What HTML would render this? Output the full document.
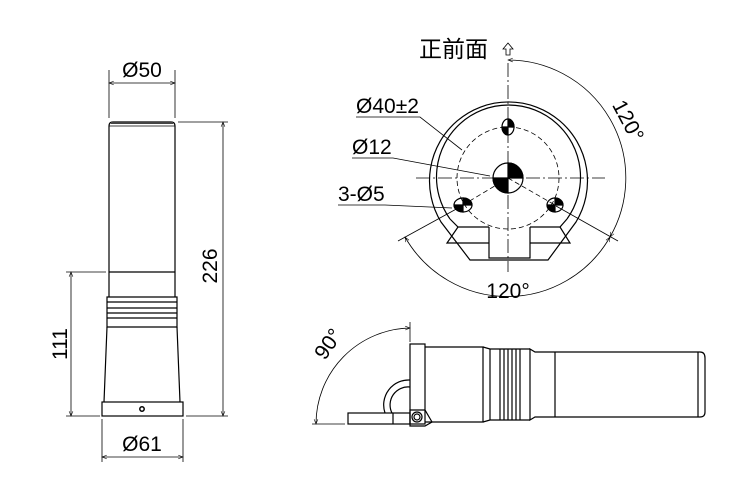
<!DOCTYPE html>
<html><head><meta charset="utf-8"><style>
html,body{margin:0;padding:0;background:#fff;width:750px;height:500px;overflow:hidden}
text{font-family:"Liberation Sans","Noto Sans CJK SC",sans-serif;fill:#000}
</style></head><body>
<svg width="750" height="500" viewBox="0 0 750 500" xmlns="http://www.w3.org/2000/svg">
<defs>
<marker id="a" viewBox="0 0 10 10" refX="10" refY="5" markerWidth="8" markerHeight="6" orient="auto-start-reverse"><path d="M0,1 L10,5 L0,9" fill="none" stroke="#000" stroke-width="1.2"/></marker>
</defs>
<g fill="none" stroke="#000" stroke-width="1.2">
<path d="M109,272 V126 Q109,122 113,122 H171 Q175,122 175,126 V272"/>
<rect x="111" y="122" width="62" height="2" fill="#444" stroke="none"/>
<line x1="109" y1="126" x2="175" y2="126" stroke-width="0.8"/>
<line x1="109" y1="272" x2="175" y2="272"/>
<path d="M109,272 V297 M175,272 V297"/>
<path d="M107,297 H177 V327 H107 Z"/>
<line x1="107" y1="302" x2="177" y2="302"/>
<line x1="107" y1="308" x2="177" y2="308"/>
<line x1="107" y1="313" x2="177" y2="313"/>
<line x1="107" y1="318" x2="177" y2="318"/>
<path d="M107,327 L104,402 M177,327 L180,402"/>
<rect x="102" y="402" width="81" height="14"/>
<circle cx="142" cy="409" r="2.2" stroke-width="1.5"/>
<g stroke-width="0.8">
<line x1="109" y1="70" x2="109" y2="118"/><line x1="175" y1="70" x2="175" y2="118"/>
<line x1="109" y1="83" x2="175" y2="83" marker-start="url(#a)" marker-end="url(#a)"/>
<line x1="178" y1="122" x2="228" y2="122"/><line x1="186" y1="416" x2="228" y2="416"/>
<line x1="223" y1="122" x2="223" y2="416" marker-start="url(#a)" marker-end="url(#a)"/>
<line x1="66" y1="272" x2="106" y2="272"/><line x1="66" y1="416" x2="100" y2="416"/>
<line x1="71" y1="272" x2="71" y2="416" marker-start="url(#a)" marker-end="url(#a)"/>
<line x1="102" y1="419" x2="102" y2="462"/><line x1="183" y1="419" x2="183" y2="462"/>
<line x1="102" y1="457" x2="183" y2="457" marker-start="url(#a)" marker-end="url(#a)"/>
</g>
<g stroke-width="0.8" stroke-dasharray="14,3,2,3">
<line x1="508" y1="63" x2="508" y2="272"/>
<line x1="416" y1="178" x2="605" y2="178"/>
</g>
<circle cx="508" cy="178" r="51" stroke-width="0.8" stroke-dasharray="5,3"/>
<g stroke-width="0.8" stroke-dasharray="5,3"><line x1="508" y1="178" x2="463" y2="205"/><line x1="508" y1="178" x2="555" y2="205"/></g>
<path d="M441,222 A79,79 0 1 1 576,222 L548,260 H470 Z"/>
<path d="M450,219 A72,72 0 1 1 567,219"/>
<path d="M450,219 L458,227 H489 M567,219 L560,227 H530"/>
<path d="M458,227 L447,243 H489 M560,227 L570,243 H530"/>
<path d="M489,227 V258 H530 V227"/>
<circle cx="508" cy="178" r="15" stroke-width="1.2"/>
<path d="M508,163 A15,15 0 0 1 523,178 H508 Z M508,193 A15,15 0 0 1 493,178 H508 Z" fill="#000"/>
<ellipse cx="508" cy="127" rx="6" ry="8"/><path d="M508,119 A6,8 0 0 1 514,127 H508 Z M508,135 A6,8 0 0 1 502,127 H508 Z" fill="#000"/>
<ellipse cx="463" cy="205" rx="9" ry="7"/><path d="M463,198 A9,7 0 0 1 472,205 H463 Z M463,212 A9,7 0 0 1 454,205 H463 Z" fill="#000"/>
<ellipse cx="555" cy="205" rx="8" ry="7"/><path d="M555,198 A8,7 0 0 1 563,205 H555 Z M555,212 A8,7 0 0 1 547,205 H555 Z" fill="#000"/>
<g stroke-width="0.8">
<path d="M508,60 A118,118 0 0 1 610,237" marker-start="url(#a)" marker-end="url(#a)"/>
<path d="M405,237 A118,118 0 0 0 610,237" marker-start="url(#a)" marker-end="url(#a)"/>
<line x1="556" y1="206" x2="618" y2="241"/><line x1="460" y1="207" x2="398" y2="241"/>
<path d="M356,117 H420 L462,150"/>
<path d="M352,158 H393 L490,176"/>
<path d="M338,205 H385 L452,208"/>
</g>
<path d="M508,43 L503,49 H506 V55 H510 V49 H513 Z" stroke-width="0.8"/>
<rect x="410" y="344" width="15" height="80"/>
<path d="M425,347 H483 V422 H425"/>
<path d="M483,347 L490,349 H530 M483,422 L490,420 H530"/>
<line x1="490" y1="349" x2="490" y2="420"/>
<line x1="500" y1="349" x2="500" y2="420"/><line x1="504" y1="349" x2="504" y2="420"/>
<line x1="508" y1="349" x2="508" y2="420"/><line x1="512" y1="349" x2="512" y2="420"/>
<line x1="516" y1="349" x2="516" y2="420"/><line x1="520" y1="349" x2="520" y2="420"/>
<path d="M530,349 L535,352 H700 Q705,352 705,358 V412 Q705,417 700,417 H535 L530,420 Z"/>
<line x1="555" y1="352" x2="555" y2="417"/>
<line x1="698" y1="352" x2="698" y2="417"/>
<rect x="348" y="413" width="62" height="11"/>
<line x1="393" y1="413" x2="393" y2="424"/>
<path d="M385,413 A25,25 0 0 1 410,380 M392,413 A18,18 0 0 1 410,387"/>
<path d="M410,410 H425 L432,422 L425,426 H410 Z"/>
<circle cx="417" cy="417" r="5"/><circle cx="417" cy="417" r="3"/>
<g stroke-width="0.8">
<line x1="410" y1="322" x2="410" y2="342"/><line x1="312" y1="424" x2="345" y2="424"/>
<path d="M410,328 A96,96 0 0 0 316,424" marker-start="url(#a)" marker-end="url(#a)"/>
</g>
</g>
<g font-size="21">
<text x="142" y="77" text-anchor="middle">Ø50</text>
<text x="142" y="451" text-anchor="middle">Ø61</text>
<text transform="translate(217,266) rotate(-90)" text-anchor="middle">226</text>
<text transform="translate(67,344) rotate(-90)" text-anchor="middle">111</text>
<text x="419" y="57" font-size="23">正前面</text>
<text x="356" y="113">Ø40±2</text>
<text x="352" y="154">Ø12</text>
<text x="338" y="201">3-Ø5</text>
<text transform="translate(622,124) rotate(62)" text-anchor="middle">120°</text>
<text x="508" y="298" text-anchor="middle">120°</text>
<text transform="translate(334,348) rotate(-55)" text-anchor="middle">90°</text>
</g>
</svg>
</body></html>
